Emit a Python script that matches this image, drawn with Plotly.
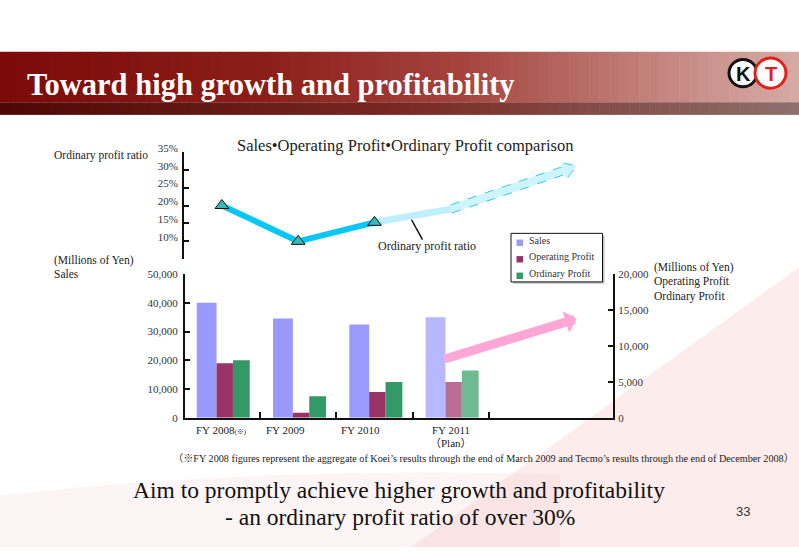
import math
import plotly.graph_objects as go

# ---------------- data ----------------
categories = ["FY 2008", "FY 2009", "FY 2010", "FY 2011"]
category_notes = ["(※)", "", "", ""]
plan_flags = [False, False, False, True]
sales = [40000, 34600, 32500, 35000]              # left axis, millions of yen
operating_profit = [7600, 700, 3600, 5000]        # right axis
ordinary_profit = [8000, 3000, 5000, 6600]        # right axis
ordinary_profit_ratio = [20.0, 10.0, 15.3, 19.0]  # %, FY2011 = plan
target_ratio = 31.0                               # "over 30%" goal arrow
sales_ticks = [0, 10000, 20000, 30000, 40000, 50000]
profit_ticks = [0, 5000, 10000, 15000, 20000]
ratio_ticks = [5, 10, 15, 20, 25, 30, 35]
ratio_ticklabels = ["", "10%", "15%", "20%", "25%", "30%", "35%"]
series_names = ["Sales", "Operating Profit", "Ordinary Profit"]
series_colors = ["#9999FF", "#993366", "#339966"]
plan_colors = ["#B8B8FF", "#B77094", "#6FBA93"]

# ---------------- layout constants ----------------
W, H = 799, 553
SERIF = "Liberation Serif, Times New Roman, Noto Sans CJK JP, serif"
TXT = "#222222"
X_PX = (185, 613)
XR = (-0.4836, 5.1258)
Y_PX = (420, 272)        # bottom chart (bottom, top)
Y3_PX = (256.7, 146)     # ratio chart (bottom, top)
Y3R = (5, 35)

def px(x):
    return x / W

def py(y):
    return 1 - y / H

def data_px_x(v):
    return X_PX[0] + (v - XR[0]) / (XR[1] - XR[0]) * (X_PX[1] - X_PX[0])

def data_px_y3(v):
    return Y3_PX[0] - (v - Y3R[0]) / (Y3R[1] - Y3R[0]) * (Y3_PX[0] - Y3_PX[1])

def block_arrow_path(p0, p1, body_half, head_half, head_len):
    (x0, y0), (x1, y1) = p0, p1
    dx, dy = x1 - x0, y1 - y0
    L = math.hypot(dx, dy)
    ux, uy = dx / L, dy / L
    nx, ny = -uy, ux
    kx, ky = x1 - ux * head_len, y1 - uy * head_len
    pts = [(x0 + nx * body_half, y0 + ny * body_half),
           (kx + nx * body_half, ky + ny * body_half),
           (kx + nx * head_half, ky + ny * head_half),
           (x1, y1),
           (kx - nx * head_half, ky - ny * head_half),
           (kx - nx * body_half, ky - ny * body_half),
           (x0 - nx * body_half, y0 - ny * body_half)]
    return "M " + " L ".join(f"{px(a):.5f},{py(b):.5f}" for a, b in pts) + " Z"

idx = list(range(len(categories)))

def colors_for(k):
    return [plan_colors[k] if p else series_colors[k] for p in plan_flags]

fig = go.Figure()

# ---------------- bars ----------------
fig.add_trace(go.Bar(x=idx, y=sales, width=0.26, offset=-0.33, yaxis="y",
                     marker=dict(color=colors_for(0), line=dict(width=0)),
                     name=series_names[0], showlegend=False))
fig.add_trace(go.Bar(x=idx, y=operating_profit, width=0.215, offset=-0.07, yaxis="y2",
                     marker=dict(color=colors_for(1), line=dict(width=0)),
                     name=series_names[1], showlegend=False))
fig.add_trace(go.Bar(x=idx, y=ordinary_profit, width=0.22, offset=0.145, yaxis="y2",
                     marker=dict(color=colors_for(2), line=dict(width=0)),
                     name=series_names[2], showlegend=False))

# ---------------- ratio line ----------------
act = [i for i in idx if not plan_flags[i]]
last_act = act[-1]
plan_i = [i for i in idx if plan_flags[i]]
fig.add_trace(go.Scatter(x=[last_act] + plan_i,
                         y=[ordinary_profit_ratio[last_act]] + [ordinary_profit_ratio[i] for i in plan_i],
                         mode="lines", yaxis="y3", showlegend=False,
                         line=dict(color="#BDEFFF", width=7)))
fig.add_trace(go.Scatter(x=act, y=[ordinary_profit_ratio[i] for i in act],
                         mode="lines+markers", yaxis="y3", showlegend=False,
                         line=dict(color="#08C6F6", width=6),
                         marker=dict(symbol="triangle-up", size=12, color="#36B9BA",
                                     line=dict(color="#111111", width=1))))

shapes = []
# ---------------- header band (gradient strips) ----------------
def lerp_color(stops, t):
    for (t0, c0), (t1, c1) in zip(stops, stops[1:]):
        if t0 <= t <= t1:
            f = (t - t0) / (t1 - t0) if t1 > t0 else 0
            return "rgb(%d,%d,%d)" % tuple(round(a + (b - a) * f) for a, b in zip(c0, c1))
    return "rgb(%d,%d,%d)" % stops[-1][1]

upper_stops = [(0, (124, 10, 8)), (0.33, (140, 30, 25)), (0.58, (165, 68, 62)),
               (0.8, (192, 126, 120)), (0.9, (204, 150, 144)), (1, (214, 170, 165))]
lower_stops = [(0, (78, 7, 5)), (0.5, (120, 40, 35)), (1, (142, 112, 108))]
N = 80
for k in range(N):
    x0, x1 = W * k / N, W * (k + 1) / N + 0.6
    t = (k + 0.5) / N
    shapes.append(dict(type="rect", xref="paper", yref="paper", layer="below",
                       x0=px(x0), x1=px(x1), y0=py(95), y1=py(43),
                       fillcolor=lerp_color(upper_stops, t), line=dict(width=0)))
    shapes.append(dict(type="rect", xref="paper", yref="paper", layer="below",
                       x0=px(x0), x1=px(x1), y0=py(108), y1=py(95),
                       fillcolor=lerp_color(lower_stops, t), line=dict(width=0)))

# soft pink background swoosh
shapes.append(dict(type="path", xref="paper", yref="paper", layer="below",
                   path=f"M {px(411)},{py(553)} L {px(799)},{py(265)} L {px(799)},{py(553)} Z",
                   fillcolor="rgba(238,150,150,0.18)", line=dict(width=0)))
shapes.append(dict(type="path", xref="paper", yref="paper", layer="below",
                   path=f"M {px(0)},{py(553)} L {px(0)},{py(500)} Q {px(250)},{py(470)} {px(560)},{py(478)} L {px(560)},{py(553)} Z",
                   fillcolor="rgba(238,160,160,0.10)", line=dict(width=0)))

# logo
shapes.append(dict(type="circle", xref="paper", yref="paper",
                   x0=px(729), x1=px(757), y0=py(79), y1=py(51),
                   fillcolor="white", line=dict(color="#111111", width=3)))
shapes.append(dict(type="circle", xref="paper", yref="paper",
                   x0=px(755), x1=px(786), y0=py(80.5), y1=py(49.5),
                   fillcolor="white", line=dict(color="#E0201C", width=3)))

# dashed goal arrow (ratio chart)
tail = (data_px_x(plan_i[0]), data_px_y3(ordinary_profit_ratio[plan_i[0]]))
tip = (data_px_x(4.65), data_px_y3(target_ratio))
shapes.append(dict(type="path", xref="paper", yref="paper",
                   path=block_arrow_path(tail, tip, 4.2, 9, 14),
                   fillcolor="#CDF5FF", line=dict(color="#2FC8F5", width=1, dash="dash")))

# leader line for the ratio label
shapes.append(dict(type="line", xref="paper", yref="paper",
                   x0=px(411.5), y0=py(216), x1=px(422.5), y1=py(236.5),
                   line=dict(color="#111111", width=1.5)))

# legend box (drawn)
LEG = dict(left=511, top=230, right=602.5, bottom=280)
shapes.append(dict(type="rect", xref="paper", yref="paper",
                   x0=px(LEG["left"] + 2), x1=px(LEG["right"] + 2),
                   y0=py(LEG["bottom"] + 2), y1=py(LEG["top"] + 2),
                   fillcolor="rgba(0,0,0,0.25)", line=dict(width=0)))
shapes.append(dict(type="rect", xref="paper", yref="paper",
                   x0=px(LEG["left"]), x1=px(LEG["right"]),
                   y0=py(LEG["bottom"]), y1=py(LEG["top"]),
                   fillcolor="white", line=dict(color="#111111", width=1)))

annotations = []

def txt(x, y, text, size, xanchor="left", color=TXT, family=SERIF, **kw):
    annotations.append(dict(x=px(x), y=py(y), xref="paper", yref="paper", text=text,
                            showarrow=False, xanchor=xanchor, yanchor="middle",
                            font=dict(size=size, color=color, family=family), **kw))

for k, nm in enumerate(series_names):
    cy = 239.7 + 17 * k
    shapes.append(dict(type="rect", xref="paper", yref="paper",
                       x0=px(516.5), x1=px(523), y0=py(cy + 3.3), y1=py(cy - 3.3),
                       fillcolor=series_colors[k], line=dict(width=0)))
    txt(527, cy - 2.5, nm, 10, color="#333333")

# header title
txt(25, 77, "<b>Toward high growth and profitability</b>", 30.5, color="white")
txt(743, 66, "<b>K</b>", 20, xanchor="center", color="#111111",
    family="Liberation Sans, Arial, sans-serif")
txt(771, 66, "<b>T</b>", 20, xanchor="center", color="#E0201C",
    family="Liberation Sans, Arial, sans-serif")

txt(405, 140, "Sales•Operating Profit•Ordinary Profit comparison", 16.5, xanchor="center")
txt(52, 150, "Ordinary profit ratio", 11.5)
txt(427, 243, "Ordinary profit ratio", 12, xanchor="center")
txt(52, 258, "(Millions of Yen)", 11.5)
txt(52, 272, "Sales", 11.5)
txt(652, 265, "(Millions of Yen)", 11.5)
txt(652, 280, "Operating Profit", 11.5)
txt(652, 295, "Ordinary Profit", 11.5)

# category labels
label_shift = [0, -13, -14, 0]
for i, (c, n) in enumerate(zip(categories, category_notes)):
    t = c + (f'<span style="font-size:7px">{n}</span>' if n else "")
    annotations.append(dict(x=i, y=py(432.5), xref="x", yref="paper", text=t, showarrow=False,
                            xanchor="center", yanchor="middle", xshift=label_shift[i],
                            font=dict(size=11, color=TXT, family=SERIF)))
    if plan_flags[i]:
        annotations.append(dict(x=i, y=py(445.5), xref="x", yref="paper", text="（Plan）",
                                showarrow=False, xanchor="center", yanchor="middle",
                                font=dict(size=11, color=TXT, family=SERIF)))

txt(483, 462, "（※FY 2008 figures represent the aggregate of Koei’s results through the end of March 2009 and Tecmo’s results through the end of December 2008）",
    10.2, xanchor="center")
txt(399, 494, "Aim to promptly achieve higher growth and profitability", 23.5, xanchor="center", color="#111111")
txt(400, 522, "- an ordinary profit ratio of over 30%", 23.5, xanchor="center", color="#111111")
txt(743, 516, "33", 13, xanchor="center", color="#333333", family="Liberation Sans, Arial, sans-serif")

# pink growth arrow (bottom chart)
annotations.append(dict(x=4.65, y=34500, xref="x", yref="y", ax=2.9, ay=20300,
                        axref="x", ayref="y", text="", showarrow=True,
                        arrowhead=1, arrowsize=0.42, arrowwidth=9, arrowcolor="#FFA6D6"))

axis_common = dict(showline=True, linecolor="#111111", linewidth=2, ticks="inside",
                   ticklen=5, tickwidth=1.5, tickcolor="#111111", showgrid=False,
                   zeroline=False, fixedrange=True,
                   tickfont=dict(size=11, color="#333333", family=SERIF))

fig.update_layout(
    width=W, height=H, margin=dict(l=0, r=0, t=0, b=0),
    paper_bgcolor="white", plot_bgcolor="rgba(0,0,0,0)",
    barmode="overlay", shapes=shapes, annotations=annotations,
    xaxis=dict(domain=[px(X_PX[0]), px(X_PX[1])], range=list(XR), anchor="y",
               showline=True, linecolor="#111111", linewidth=2, ticks="inside",
               tickvals=[i + 0.5 for i in idx], ticklen=6, tickwidth=1.5,
               tickcolor="#111111", showticklabels=False, showgrid=False,
               zeroline=False, fixedrange=True),
    yaxis=dict(domain=[py(Y_PX[0]), py(Y_PX[1])], range=[0, 50000], anchor="x",
               tickvals=sales_ticks, ticktext=[f"{v:,}" for v in sales_ticks],
               ticklabelstandoff=3, **axis_common),
    yaxis2=dict(domain=[py(Y_PX[0]), py(Y_PX[1])], range=[0, 20000], anchor="x",
                overlaying="y", side="right",
                tickvals=profit_ticks, ticktext=[f"{v:,}" for v in profit_ticks],
                ticklabelstandoff=1, **axis_common),
    yaxis3=dict(domain=[py(Y3_PX[0]), py(Y3_PX[1])], range=list(Y3R), anchor="free",
                position=px(183), tickvals=ratio_ticks, ticktext=ratio_ticklabels,
                ticklabelshift=-4, ticklabelstandoff=2, **axis_common),
    showlegend=False,
)

fig.write_html("out.html")
